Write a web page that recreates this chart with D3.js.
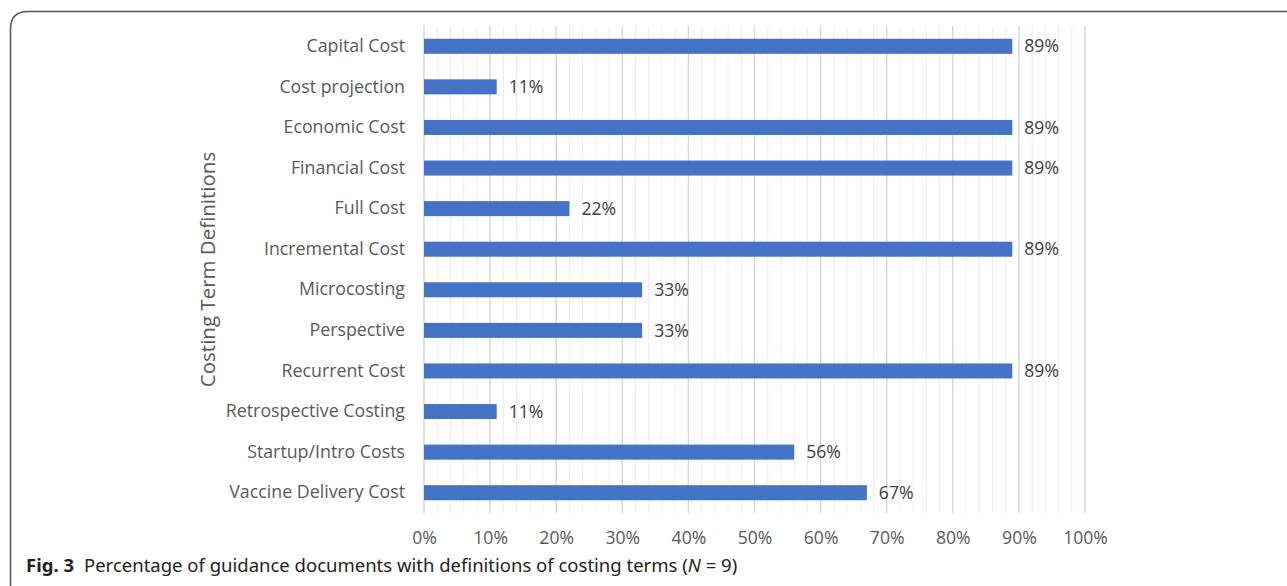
<!DOCTYPE html>
<html><head><meta charset="utf-8">
<script src="https://cdn.jsdelivr.net/npm/d3@7"></script>
<style>body{margin:0;background:#fff}svg{display:block}</style>
</head><body>
<svg id="c" width="1287" height="586"></svg>
<script>
const categories = ["Capital Cost","Cost projection","Economic Cost","Financial Cost","Full Cost","Incremental Cost","Microcosting","Perspective","Recurrent Cost","Retrospective Costing","Startup/Intro Costs","Vaccine Delivery Cost"];
const values = [0.89,0.11,0.89,0.89,0.22,0.89,0.33,0.33,0.89,0.11,0.56,0.67];
const xTicks = [0,0.1,0.2,0.3,0.4,0.5,0.6,0.7,0.8,0.9,1.0];
const axisTitle = "Costing Term Definitions";

(function(){
const svg = d3.select("#c");
const font = "'Open Sans', 'Noto Sans', sans-serif";
const pL = 424, pR = 1085, pT = 26, pB = 513;
const x = d3.scaleLinear().domain([0,1]).range([pL,pR]);
const y = d3.scaleBand().domain(categories).range([pT,pB]).paddingInner(0.63).paddingOuter(0.315);

// border
svg.append("path")
  .attr("d", `M10.5,590 L10.5,29 Q10.5,11.5 28,11.5 L1290,11.5`)
  .attr("fill","none").attr("stroke","#555").attr("stroke-width",1.5);

// minor gridlines
const minor = d3.range(0,1.0001,0.02);
svg.append("g").selectAll("line").data(minor).join("line")
  .attr("x1",d=>x(d)).attr("x2",d=>x(d)).attr("y1",pT).attr("y2",pB)
  .attr("stroke","#ececec").attr("stroke-width",1);
// major gridlines
svg.append("g").selectAll("line").data(xTicks).join("line")
  .attr("x1",d=>x(d)).attr("x2",d=>x(d)).attr("y1",pT).attr("y2",pB)
  .attr("stroke","#d6d6d6").attr("stroke-width",1.3);

// bars
svg.append("g").selectAll("rect").data(values).join("rect")
  .attr("x",x(0)).attr("y",(d,i)=>y(categories[i]))
  .attr("width",d=>x(d)-x(0)).attr("height",y.bandwidth())
  .attr("fill","#4472c4");

// value labels
svg.append("g").selectAll("text").data(values).join("text")
  .attr("x",d=>x(d)+12).attr("y",(d,i)=>y(categories[i])+y.bandwidth()/2)
  .attr("dy","0.35em").attr("font-family",font).attr("font-size",17.6).attr("fill","#404040")
  .text(d=>Math.round(d*100)+"%");

// y axis labels
const ya = d3.axisLeft(y).tickSize(0).tickPadding(19);
const yg = svg.append("g").attr("transform",`translate(${pL},0)`).call(ya);
yg.select(".domain").remove();
yg.selectAll("text").attr("font-family",font).attr("font-size",17.8).attr("fill","#595959");

// x axis labels
const xa = d3.axisBottom(x).tickValues(xTicks).tickFormat(d=>Math.round(d*100)+"%").tickSize(0).tickPadding(19);
const xg = svg.append("g").attr("transform",`translate(0,${pB})`).call(xa);
xg.select(".domain").remove();
xg.selectAll("text").attr("font-family",font).attr("font-size",17.6).attr("fill","#595959");

// axis title
svg.append("text").attr("transform",`translate(208,${(pT+pB)/2}) rotate(-90)`)
  .attr("text-anchor","middle").attr("dy","0.35em")
  .attr("font-family",font).attr("font-size",20.5).attr("fill","#595959").text(axisTitle);

// caption
const cap = svg.append("text").attr("x",26).attr("y",572)
  .attr("font-family","'Noto Sans', 'Open Sans', sans-serif").attr("font-size",18.5).attr("fill","#231f20");
cap.append("tspan").attr("font-weight","bold").text("Fig. 3");
cap.append("tspan").attr("dx",10).text("Percentage of guidance documents with definitions of costing terms (");
cap.append("tspan").attr("font-style","italic").text("N");
cap.append("tspan").text(" = 9)");
})();
</script>
</body></html>
